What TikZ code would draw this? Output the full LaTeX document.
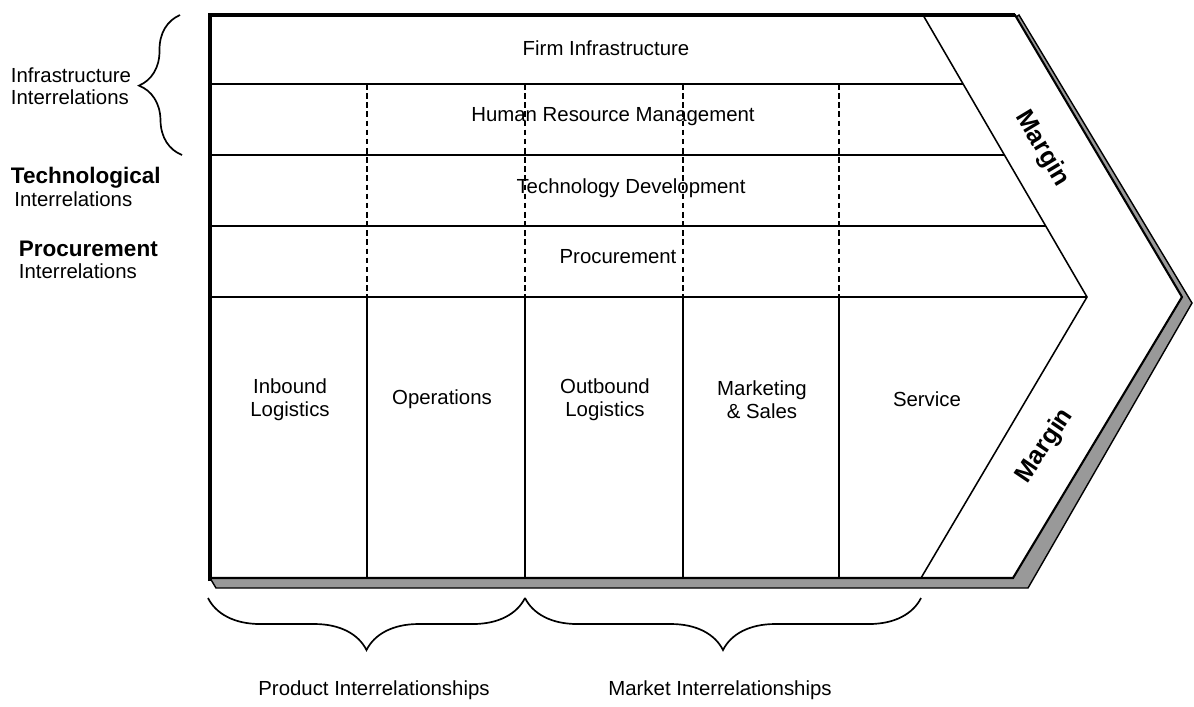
\documentclass[tikz,border=0pt]{standalone}
\usepackage{fontspec}
\setmainfont{Liberation Sans}
\usetikzlibrary{decorations.pathreplacing}

\begin{document}
\begin{tikzpicture}[x=0.025cm,y=-0.025cm,
	cell/.style={font=\fontsize{14.5}{16.5}\selectfont, align=center},
	side/.style={font=\fontsize{14.5}{16}\selectfont, align=left, anchor=west},
	margin/.style={font=\bfseries\fontsize{18}{20}\selectfont},
	curly/.style={decorate, decoration={brace, amplitude=#1}, line width=1.2pt}]
	\useasboundingbox (0,0) rectangle (1194,706);

	\coordinate(TL) at (210,15);
	\coordinate(TR) at (1015,15);
	\coordinate(Tip) at (1182,297);
	\coordinate(BR) at (1013,578);
	\coordinate(BL) at (210,578);
	\coordinate(MT) at (923,15);
	\coordinate(MI) at (1087,297);
	\coordinate(MB) at (921,578);

	% shadow and chain
	\draw[fill=black!40, line width=1pt] (1019,15) -- (1192,303) -- (1028,588) -- (216,588) -- (210,578) -- cycle;
	\draw[fill=white, line width=1.5pt] (TL) -- (TR) -- (Tip) -- (BR) -- (BL) -- cycle;
	\draw[line width=3.5pt] (210,581) -- (TL) -- (TR);
	\draw[line width=1.1pt] (MT) -- (MI) -- (MB);

	\foreach \y/\x in {84/963,155/1004,226/1046,297/1087}
		\draw[line width=1.6pt] (210,\y) -- (\x,\y);
	\foreach \x in {367,525,683,839} {
		\draw[line width=1.6pt, dash pattern=on 4pt off 2.5pt] (\x,84) -- (\x,297);
		\draw[line width=1.4pt] (\x,297) -- (\x,578);
	}

	\node[cell](firm) at (606,48) {Firm Infrastructure};
	\node[cell](hrm) at (613,117) {Human Resource Management};
	\node[cell](techdev) at (631,188) {Technology Development};
	\node[cell](proc) at (618,257) {Procurement};
	\node[cell](inbound) at (290,400) {Inbound\\Logistics};
	\node[cell](ops) at (442,399) {Operations};
	\node[cell](outbound) at (605,400) {Outbound\\Logistics};
	\node[cell](mkt) at (762,400) {Marketing\\\& Sales};
	\node[cell](service) at (927,399) {Service};

	\node[margin, rotate=-59](mup) at (1042,149) {Margin};
	\node[margin, rotate=56](mlow) at (1045,446) {Margin};

	\node[side](infrarel) at (6,86) {Infrastructure\\Interrelations};
	\node[side](techrel) at (6,187) {{\bfseries\fontsize{16}{18}\selectfont Technological}\\\,Interrelations};
	\node[side](procrel) at (14,260) {{\bfseries\fontsize{16}{18}\selectfont Procurement}\\Interrelations};

	\coordinate(bt) at (180,15);
	\coordinate(bb) at (182,155);
	\coordinate(p1) at (208,598);
	\coordinate(p2) at (525,598);
	\coordinate(p3) at (921,598);
	\draw[curly=1.05cm] (bb) -- (bt);
	\draw[curly=1.3cm] (p2) -- (p1);
	\draw[curly=1.3cm] (p3) -- (p2);

	\node[cell](prodrel) at (374,690) {Product Interrelationships};
	\node[cell](mktrel) at (720,690) {Market Interrelationships};
\end{tikzpicture}
\end{document}
